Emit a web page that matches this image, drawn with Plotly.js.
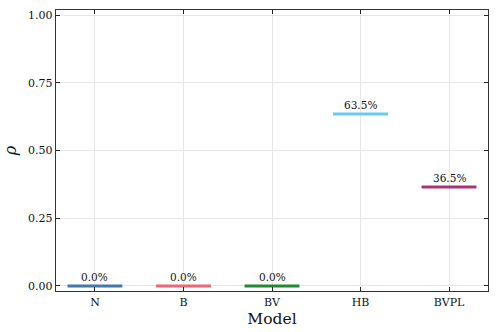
<!DOCTYPE html>
<html>
<head>
<meta charset="utf-8">
<script src="https://cdn.plot.ly/plotly-3.0.1.min.js"></script>
<style>
  html, body { margin: 0; padding: 0; background: #fff; }
  #chart { width: 498px; height: 332px; }
</style>
</head>
<body>
<div id="chart"></div>
<script>
// model weights (rho) per model
const models = ['N', 'B', 'BV', 'HB', 'BVPL'];
const rho = [0.0, 0.0, 0.0, 0.635, 0.365];
const labels = ['0.0%', '0.0%', '0.0%', '63.5%', '36.5%'];
const colors = ['#4477AA', '#EE6677', '#228833', '#66CCEE', '#AA3377'];

const halfWidth = 0.31;
const serif = 'DejaVu Serif';

const traces = models.map((m, i) => ({
    x: [i - halfWidth, i + halfWidth],
    y: [rho[i], rho[i]],
    type: 'scatter',
    mode: 'lines',
    name: m,
    line: { color: colors[i], width: 3 },
    hoverinfo: 'skip',
    showlegend: false
}));

// percentage labels above each line
const annotations = models.map((m, i) => ({
    x: i,
    y: rho[i],
    xref: 'x',
    yref: 'y',
    text: labels[i],
    showarrow: false,
    yanchor: 'bottom',
    yshift: 1,
    font: { family: serif, size: 10.5, color: '#111' }
}));

const layout = {
    width: 498,
    height: 332,
    margin: { l: 56, r: 10, t: 10, b: 41 },
    paper_bgcolor: '#fff',
    plot_bgcolor: '#fff',
    font: { family: serif, size: 11, color: '#111' },
    annotations: annotations,
    xaxis: {
        range: [-0.44, 4.44],
        tickvals: models.map((m, i) => i),
        ticktext: models,
        ticks: 'inside',
        ticklen: 4,
        tickcolor: '#222',
        mirror: 'allticks',
        showline: true,
        linecolor: '#333',
        linewidth: 1.3,
        showgrid: true,
        gridcolor: '#e6e6e6',
        zeroline: false,
        tickfont: { family: serif, size: 11 },
        title: { text: 'Model', font: { family: serif, size: 15.5 }, standoff: 5 }
    },
    yaxis: {
        range: [-0.0185, 1.0185],
        tickvals: [0, 0.25, 0.5, 0.75, 1.0],
        ticktext: ['0.00', '0.25', '0.50', '0.75', '1.00'],
        ticks: 'inside',
        ticklen: 4,
        tickcolor: '#222',
        mirror: 'allticks',
        showline: true,
        linecolor: '#333',
        linewidth: 1.3,
        showgrid: true,
        gridcolor: '#e6e6e6',
        zeroline: false,
        tickfont: { family: serif, size: 11 },
        title: { text: '<i>ρ</i>', font: { family: serif, size: 16 }, standoff: 7 }
    }
};

Plotly.newPlot('chart', traces, layout, { displayModeBar: false, staticPlot: true });
</script>
</body>
</html>
